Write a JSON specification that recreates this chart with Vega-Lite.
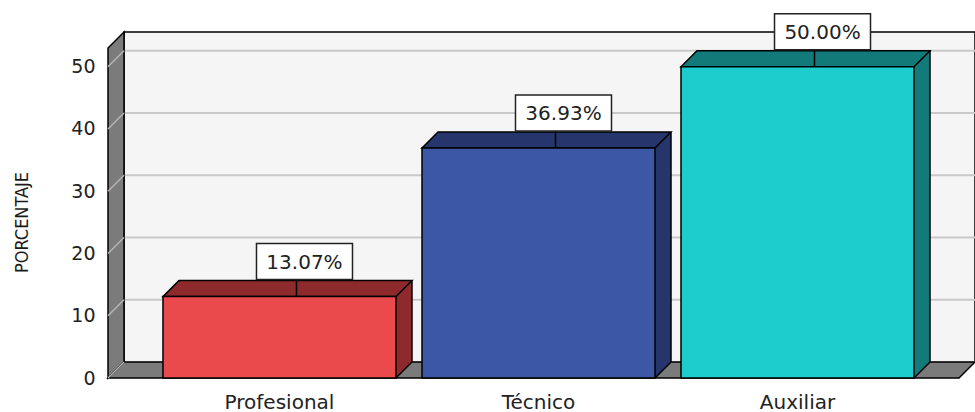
{
  "$schema": "https://vega.github.io/schema/vega-lite/v6.json",
  "width": 851,
  "height": 330,
  "autosize": {"type": "none"},
  "padding": {"left": 108, "top": 48, "right": 16, "bottom": 34},
  "background": "white",
  "config": {"view": {"stroke": null}, "font": "DejaVu Sans", "axisY": {"orient": "left", "title": "PORCENTAJE", "titleFont": "'DejaVu Sans Condensed', 'Liberation Sans', sans-serif", "titleFontSize": 18, "titleFontWeight": "normal", "titleColor": "#1a1a1a", "titleAngle": -90, "titleAlign": "center", "titleBaseline": "middle", "titleX": -86, "titleY": 174, "labelFontSize": 19, "labelColor": "#222222", "labelPadding": 13, "ticks": false, "domain": false, "grid": false, "labelFont": "DejaVu Sans", "tickCount": 5}},
  "datasets": {
    "cargos": [
      {"categoria": "Profesional", "porcentaje": 13.07},
      {"categoria": "Técnico", "porcentaje": 36.93},
      {"categoria": "Auxiliar", "porcentaje": 50.0}
    ],
    "lineas": [{"g": 0}, {"g": 10}, {"g": 20}, {"g": 30}, {"g": 40}, {"g": 50}],
    "uno": [{}]
  },
  "data": {"name": "cargos"},
  "layer": [
    {
      "data": {"name": "uno"},
      "mark": {"type": "rect", "fill": "#f5f5f5", "stroke": "black", "strokeWidth": 1.5, "xOffset": 16, "x2Offset": 16, "yOffset": -16, "y2Offset": -16},
      "encoding": {
        "x": {"datum": 0, "type": "quantitative", "scale": {"domain": [0, 1], "nice": false, "zero": false}, "axis": null},
        "x2": {"datum": 1},
        "y": {"datum": 0, "type": "quantitative", "scale": {"domain": [0, 53], "nice": false}, "title": "PORCENTAJE"},
        "y2": {"datum": 53}
      }
    },
    {
      "data": {"name": "lineas"},
      "mark": {"type": "rule", "color": "#c9c9c9", "strokeWidth": 2, "xOffset": 16, "x2Offset": 16, "yOffset": -16},
      "encoding": {
        "x": {"datum": 0, "type": "quantitative", "scale": {"domain": [0, 1], "nice": false, "zero": false}, "axis": null},
        "x2": {"datum": 1},
        "y": {"field": "g", "type": "quantitative", "scale": {"domain": [0, 53], "nice": false}, "title": "PORCENTAJE"}
      }
    },
    {
      "data": {"name": "uno"},
      "mark": {"type": "point", "shape": "M0,0L0,-330L16,-346L16,-16Z", "size": 4, "filled": true, "fill": "#7b7b7b", "stroke": "black", "strokeWidth": 1.5, "opacity": 1},
      "encoding": {
        "x": {"datum": 0, "type": "quantitative", "scale": {"domain": [0, 1], "nice": false, "zero": false}, "axis": null},
        "y": {"datum": 0, "type": "quantitative", "scale": {"domain": [0, 53], "nice": false}, "title": "PORCENTAJE"}
      }
    },
    {
      "data": {"name": "uno"},
      "mark": {"type": "point", "shape": "M0,0L16,-16L867,-16L851,0Z", "size": 4, "filled": true, "fill": "#7b7b7b", "stroke": "black", "strokeWidth": 1.5, "opacity": 1},
      "encoding": {
        "x": {"datum": 0, "type": "quantitative", "scale": {"domain": [0, 1], "nice": false, "zero": false}, "axis": null},
        "y": {"datum": 0, "type": "quantitative", "scale": {"domain": [0, 53], "nice": false}, "title": "PORCENTAJE"}
      }
    },
    {
      "data": {"name": "lineas"},
      "mark": {"type": "rule", "color": "#b5b5b5", "strokeWidth": 1.5, "x2Offset": 16, "y2Offset": -16},
      "encoding": {
        "x": {"datum": 0, "type": "quantitative", "scale": {"domain": [0, 1], "nice": false, "zero": false}, "axis": null},
        "x2": {"datum": 0},
        "y": {"field": "g", "type": "quantitative", "scale": {"domain": [0, 53], "nice": false}, "title": "PORCENTAJE"},
        "y2": {"field": "g"}
      }
    },
    {
      "mark": {"type": "bar", "xOffset": 16, "yOffset": -16, "y2Offset": -16, "strokeWidth": 0},
      "encoding": {
        "x": {"field": "categoria", "type": "nominal", "sort": null, "scale": {"type": "band", "paddingInner": 0.1004, "paddingOuter": 0.193, "align": 0.55}, "axis": null},
        "y": {"field": "porcentaje", "type": "quantitative", "scale": {"domain": [0, 53], "nice": false}, "title": "PORCENTAJE"},
        "fill": {"field": "categoria", "type": "nominal", "sort": null, "scale": {"domain": ["Profesional", "Técnico", "Auxiliar"], "range": ["#8e2a2b", "#26356b", "#127b79"]}, "legend": null}
      }
    },
    {
      "mark": {"type": "point", "shape": "M0,0L0,-16L16,-16Z", "size": 4, "filled": true, "strokeWidth": 0, "opacity": 1},
      "encoding": {
        "x": {"field": "categoria", "type": "nominal", "sort": null, "bandPosition": 1, "scale": {"type": "band", "paddingInner": 0.1004, "paddingOuter": 0.193, "align": 0.55}, "axis": null},
        "y": {"datum": 0, "type": "quantitative", "scale": {"domain": [0, 53], "nice": false}, "title": "PORCENTAJE"},
        "fill": {"field": "categoria", "type": "nominal", "sort": null, "legend": null}
      }
    },
    {
      "mark": {"type": "point", "shape": "M0,0L16,-16L249,-16L233,0Z", "size": 4, "filled": true, "stroke": "black", "strokeWidth": 1.5, "opacity": 1},
      "encoding": {
        "x": {"field": "categoria", "type": "nominal", "sort": null, "bandPosition": 0, "scale": {"type": "band", "paddingInner": 0.1004, "paddingOuter": 0.193, "align": 0.55}, "axis": null},
        "y": {"field": "porcentaje", "type": "quantitative", "scale": {"domain": [0, 53], "nice": false}, "title": "PORCENTAJE"},
        "fill": {"field": "categoria", "type": "nominal", "sort": null, "legend": null}
      }
    },
    {
      "mark": {"type": "rule", "color": "black", "strokeWidth": 1.5, "xOffset": 16, "yOffset": -16, "y2Offset": -16},
      "encoding": {
        "x": {"field": "categoria", "type": "nominal", "sort": null, "bandPosition": 1, "scale": {"type": "band", "paddingInner": 0.1004, "paddingOuter": 0.193, "align": 0.55}, "axis": null},
        "y": {"field": "porcentaje", "type": "quantitative", "scale": {"domain": [0, 53], "nice": false}, "title": "PORCENTAJE"},
        "y2": {"datum": 0}
      }
    },
    {
      "mark": {"type": "point", "shape": "M0,0L16,-16", "size": 4, "filled": false, "fill": null, "stroke": "black", "strokeWidth": 1.5, "opacity": 1},
      "encoding": {
        "x": {"field": "categoria", "type": "nominal", "sort": null, "bandPosition": 1, "scale": {"type": "band", "paddingInner": 0.1004, "paddingOuter": 0.193, "align": 0.55}, "axis": null},
        "y": {"datum": 0, "type": "quantitative", "scale": {"domain": [0, 53], "nice": false}, "title": "PORCENTAJE"}
      }
    },
    {
      "mark": {"type": "bar", "stroke": "black", "strokeWidth": 1.5},
      "encoding": {
        "x": {"field": "categoria", "type": "nominal", "sort": null, "scale": {"type": "band", "paddingInner": 0.1004, "paddingOuter": 0.193, "align": 0.55}, "axis": {"title": null, "orient": "bottom", "labelFontSize": 20, "labelColor": "#222222", "labelPadding": 14, "ticks": false, "domain": false, "labelAngle": 0, "labelFont": "DejaVu Sans"}},
        "y": {"field": "porcentaje", "type": "quantitative", "scale": {"domain": [0, 53], "nice": false}, "title": "PORCENTAJE"},
        "color": {"field": "categoria", "type": "nominal", "sort": null, "scale": {"domain": ["Profesional", "Técnico", "Auxiliar"], "range": ["#ea4a4b", "#3d57a7", "#1dcdcd"]}, "legend": null}
      }
    },
    {
      "mark": {"type": "rule", "color": "black", "strokeWidth": 1.5, "xOffset": 17, "y2Offset": -17},
      "encoding": {
        "x": {"field": "categoria", "type": "nominal", "sort": null, "scale": {"type": "band", "paddingInner": 0.1004, "paddingOuter": 0.193, "align": 0.55}, "axis": null},
        "y": {"field": "porcentaje", "type": "quantitative", "scale": {"domain": [0, 53], "nice": false}, "title": "PORCENTAJE"},
        "y2": {"field": "porcentaje"}
      }
    },
    {
      "mark": {"type": "point", "shape": "M-48,-18L48,-18L48,18L-48,18Z", "size": 4, "filled": true, "fill": "white", "stroke": "#222222", "strokeWidth": 1.5, "opacity": 1, "xOffset": 25, "yOffset": -35},
      "encoding": {
        "x": {"field": "categoria", "type": "nominal", "sort": null, "scale": {"type": "band", "paddingInner": 0.1004, "paddingOuter": 0.193, "align": 0.55}, "axis": null},
        "y": {"field": "porcentaje", "type": "quantitative", "scale": {"domain": [0, 53], "nice": false}, "title": "PORCENTAJE"}
      }
    },
    {
      "transform": [{"calculate": "format(datum.porcentaje, '.2f') + '%'", "as": "etiqueta"}],
      "mark": {"type": "text", "fontSize": 20, "font": "DejaVu Sans", "color": "#222222", "align": "center", "baseline": "middle", "dx": 25, "dy": -34},
      "encoding": {
        "x": {"field": "categoria", "type": "nominal", "sort": null, "scale": {"type": "band", "paddingInner": 0.1004, "paddingOuter": 0.193, "align": 0.55}, "axis": null},
        "y": {"field": "porcentaje", "type": "quantitative", "scale": {"domain": [0, 53], "nice": false}, "title": "PORCENTAJE"},
        "text": {"field": "etiqueta"}
      }
    }
  ],
  "resolve": {"scale": {"x": "independent"}, "axis": {"y": "shared"}}
}
